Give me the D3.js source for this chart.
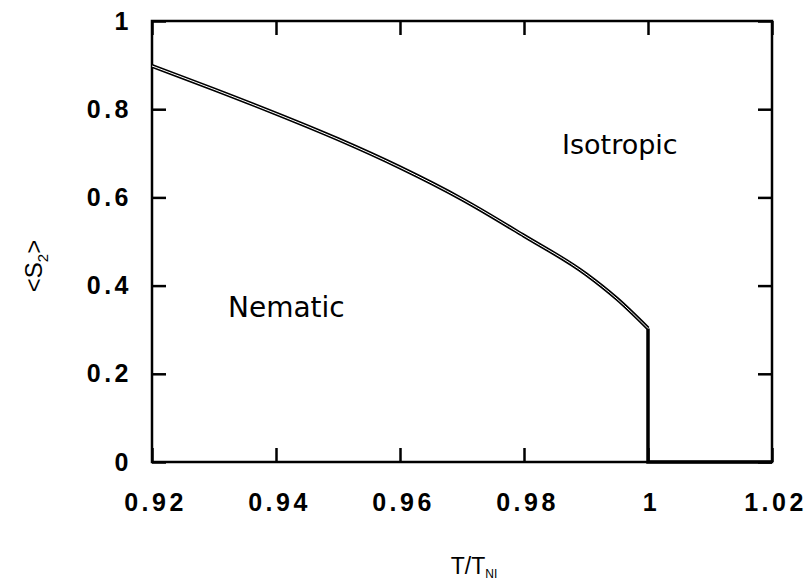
<!DOCTYPE html>
<html>
<head>
<meta charset="utf-8">
<script src="https://cdn.jsdelivr.net/npm/d3@7"></script>
<style>
  body { margin: 0; background: #fff; }
  .tick text { font-family: "Liberation Sans", Arial, sans-serif; font-weight: bold; font-size: 25px; letter-spacing: 3.5px; }
</style>
</head>
<body>
<div id="svgcontainer"></div>
<script>
// order parameter curve (nematic branch), then jump to zero at T/TNI = 1
let tempRatio = [0.92, 0.93, 0.94, 0.95, 0.96, 0.97, 0.98, 0.99, 0.995, 1.0];
let orderParam = [0.898, 0.845, 0.790, 0.732, 0.668, 0.596, 0.513, 0.426, 0.370, 0.303];
let isoTemp = [1.0, 1.0, 1.02];
let isoOrder = [0.303, 0, 0];
let xTicks = [0.92, 0.94, 0.96, 0.98, 1, 1.02];
let yTicks = [0, 0.2, 0.4, 0.6, 0.8, 1];

let width = 620;
let height = 441;
let margins = { top: 21, right: 37, bottom: 121, left: 152 };

let svg = d3.select("#svgcontainer")
    .append('svg')
    .attr('width', width + margins.left + margins.right)
    .attr('height', height + margins.top + margins.bottom)
    .append('g')
    .attr('transform', 'translate(' + margins.left + ',' + margins.top + ')');

let x = d3.scaleLinear().domain([0.92, 1.02]).range([0, width]);
let y = d3.scaleLinear().domain([0, 1]).range([height, 0]);

let fmt = d => d === 1 ? '1' : d === 0 ? '0' : d3.format('')(d);

// bottom / left axes with labels, inward ticks
let xAxis = svg.append('g')
    .attr('class', 'xaxis axis')
    .attr('transform', 'translate(0,' + height + ')')
    .call(d3.axisBottom(x).tickValues(xTicks).tickSize(-14).tickPadding(31).tickFormat(fmt));
xAxis.selectAll('.tick text').attr('dx', '3px');

let yAxis = svg.append('g')
    .attr('class', 'yaxis axis')
    .call(d3.axisLeft(y).tickValues(yTicks).tickSize(-14).tickPadding(20).tickFormat(fmt));

// top / right ticks only
svg.append('g')
    .attr('class', 'axis')
    .call(d3.axisTop(x).tickValues(xTicks).tickSize(-14).tickFormat(''));
svg.append('g')
    .attr('class', 'axis')
    .attr('transform', 'translate(' + width + ',0)')
    .call(d3.axisRight(y).tickValues(yTicks).tickSize(-14).tickFormat(''));

svg.selectAll('.axis path').remove();
svg.selectAll('.axis line').attr('stroke', '#000').attr('stroke-width', 2.5);

svg.append('rect')
    .attr('x', 0).attr('y', 0)
    .attr('width', width).attr('height', height)
    .attr('fill', 'none')
    .attr('stroke', '#000')
    .attr('stroke-width', 2.5);

let line = d3.line()
    .x(d => x(d[0]))
    .y(d => y(d[1]));
let smooth = d3.line()
    .curve(d3.curveMonotoneX)
    .x(d => x(d[0]))
    .y(d => y(d[1]));

let nem = tempRatio.map((t, i) => [t, orderParam[i]]);
let iso = isoTemp.map((t, i) => [t, isoOrder[i]]);

// scanned double-stroke look
svg.append('path')
    .datum(nem)
    .attr('d', smooth)
    .attr('fill', 'none')
    .attr('stroke', '#000')
    .attr('stroke-width', 4)
    .attr('stroke-linejoin', 'round');
svg.append('path')
    .datum(nem)
    .attr('d', smooth)
    .attr('fill', 'none')
    .attr('stroke', '#fff')
    .attr('stroke-width', 1);

svg.append('path')
    .datum(iso)
    .attr('d', line)
    .attr('fill', 'none')
    .attr('stroke', '#000')
    .attr('stroke-width', 3.5);

// region labels
svg.append('text')
    .attr('x', 76)
    .attr('y', 296)
    .style('font-family', '"DejaVu Sans", sans-serif')
    .style('font-size', '28px')
    .text('Nematic');
svg.append('text')
    .attr('x', 410)
    .attr('y', 133)
    .style('font-family', '"DejaVu Sans", sans-serif')
    .style('font-size', '27px')
    .text('Isotropic');

// axis titles
let xt = svg.append('text')
    .attr('x', 322)
    .attr('y', 553)
    .attr('text-anchor', 'middle')
    .style('font-family', '"Liberation Sans Narrow", "Liberation Sans", Arial, sans-serif')
    .style('font-size', '23px');
xt.append('tspan').text('T/T');
xt.append('tspan').attr('dy', 4).style('font-size', '12px').text('NI');

let yt = svg.append('text')
    .attr('transform', 'translate(-110,245) rotate(-90)')
    .attr('text-anchor', 'middle')
    .style('font-family', '"Liberation Sans", Arial, sans-serif')
    .style('font-size', '24px');
yt.append('tspan').text('<S');
yt.append('tspan').attr('dy', 6).style('font-size', '15px').text('2');
yt.append('tspan').attr('dy', -6).text('>');
</script>
</body>
</html>
